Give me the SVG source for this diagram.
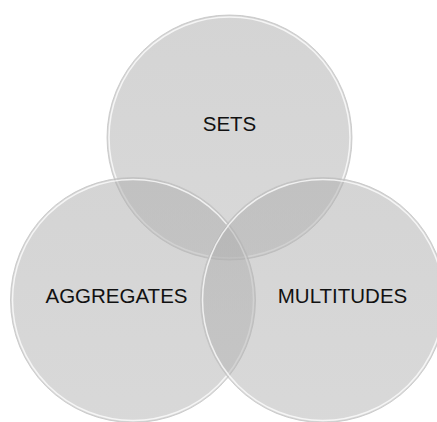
<svg xmlns="http://www.w3.org/2000/svg" width="437" height="422" viewBox="0 0 437 422">
<defs>
<linearGradient id="g" x1="0" y1="0" x2="0" y2="1">
<stop offset="0" stop-color="#adadad"/>
<stop offset="1" stop-color="#b5b5b5"/>
</linearGradient>
</defs>
<style>
.c{fill:url(#g);fill-opacity:0.52;stroke:#c4c4c4;stroke-width:1;stroke-opacity:0.8}
.h{fill:none;stroke:#ffffff;stroke-width:1.5;stroke-opacity:0.75}
.t{font-family:"Liberation Sans",Arial,sans-serif;font-size:20.5px;fill:#111111;text-anchor:middle}
</style>
<rect width="437" height="422" fill="#ffffff"/>
<g id="sets">
<circle class="c" cx="229.5" cy="137.5" r="122.5"/>
<circle class="h" cx="229.5" cy="137.5" r="120.5"/>
<text class="t" x="229.5" y="131">SETS</text>
</g>
<g id="aggregates">
<circle class="c" cx="133" cy="300" r="122.5"/>
<circle class="h" cx="133" cy="300" r="120.5"/>
<text class="t" x="116.5" y="303">AGGREGATES</text>
</g>
<g id="multitudes">
<circle class="c" cx="323" cy="300" r="122.5"/>
<circle class="h" cx="323" cy="300" r="120.5"/>
<text class="t" x="342.5" y="303">MULTITUDES</text>
</g>
<g id="connectors"/>
</svg>
